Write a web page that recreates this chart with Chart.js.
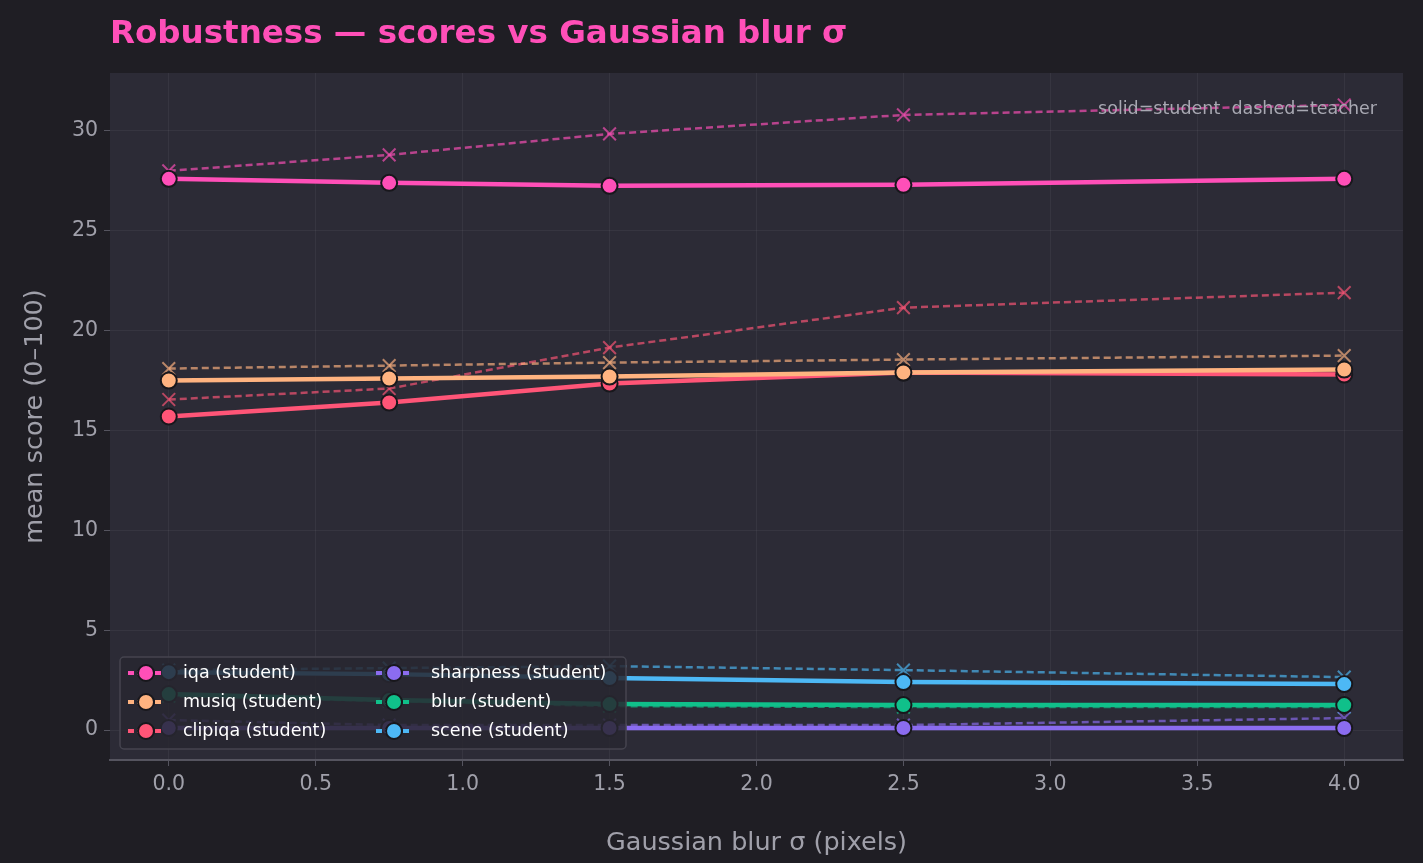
<!DOCTYPE html>
<html><head><meta charset="utf-8">
<script src="https://cdn.jsdelivr.net/npm/chart.js@4/dist/chart.umd.min.js"></script>
<style>html,body{margin:0;padding:0;background:#1f1e24;}#wrap{width:1423px;height:863px;}</style>
</head><body><div id="wrap"><canvas id="c" width="1423" height="863"></canvas></div>
<script>
const sigmas = [0, 0.75, 1.5, 2.5, 4.0];
const metrics = ['iqa','musiq','clipiqa','sharpness','blur','scene'];
const colors = ['#ff4fb8','#ffb380','#ff5577','#8b6cf0','#10c08a','#4db8f5'];
const studentIqa = [27.6, 27.4, 27.25, 27.3, 27.6];
const teacherIqa = [28.0, 28.8, 29.85, 30.8, 31.3];
const studentMusiq = [17.5, 17.6, 17.7, 17.9, 18.05];
const teacherMusiq = [18.1, 18.25, 18.4, 18.55, 18.75];
const studentClipiqa = [15.7, 16.4, 17.35, 17.9, 17.8];
const teacherClipiqa = [16.55, 17.1, 19.15, 21.15, 21.9];
const studentSharpness = [0.1, 0.1, 0.1, 0.1, 0.1];
const teacherSharpness = [0.5, 0.25, 0.25, 0.25, 0.6];
const studentBlur = [1.8, 1.5, 1.3, 1.25, 1.25];
const teacherBlur = [1.7, 1.45, 1.2, 1.15, 1.15];
const studentScene = [2.9, 2.8, 2.6, 2.4, 2.3];
const teacherScene = [3.0, 3.1, 3.2, 3.0, 2.65];
const yTicks = [0,5,10,15,20,25,30];
const xTicks = [0,0.5,1,1.5,2,2.5,3,3.5,4];

const students=[studentIqa,studentMusiq,studentClipiqa,studentSharpness,studentBlur,studentScene];
const teachers=[teacherIqa,teacherMusiq,teacherClipiqa,teacherSharpness,teacherBlur,teacherScene];
const pts = a => a.map((v,i)=>({x:sigmas[i],y:v}));
const datasets=[];
metrics.forEach((m,i)=>{
  datasets.push({label:m+' (teacher)',data:pts(teachers[i]),borderColor:colors[i]+'aa',backgroundColor:colors[i]+'aa',
    borderWidth:2.5,borderDash:[7,4],pointStyle:'crossRot',pointRadius:9,pointBorderWidth:2,pointBorderColor:colors[i]+'aa',tension:0,order:2});
});
metrics.forEach((m,i)=>{
  datasets.push({label:m+' (student)',data:pts(students[i]),borderColor:colors[i],backgroundColor:colors[i],
    borderWidth:4.5,pointStyle:'circle',pointRadius:8,pointBorderWidth:2,pointBorderColor:'#18171c',tension:0,order:1});
});

const deco={id:'deco',
 beforeDraw(ch){const {ctx,chartArea:a}=ch;ctx.save();ctx.fillStyle='#1f1e24';ctx.fillRect(0,0,ch.width,ch.height);
  ctx.fillStyle='#2c2b36';ctx.fillRect(a.left,a.top,a.right-a.left,a.bottom-a.top);ctx.restore();},
 afterDraw(ch){const {ctx,chartArea:a}=ch;ctx.save();
  ctx.fillStyle='#ff4fb8';ctx.font='bold 32.5px "DejaVu Sans"';ctx.textBaseline='middle';ctx.fillText('Robustness — scores vs Gaussian blur σ',110,35);
  ctx.fillStyle='#a8a8b2';ctx.font='17.5px "DejaVu Sans"';ctx.textAlign='right';ctx.fillText('solid=student  dashed=teacher',1377,109);
  ctx.textAlign='left';
  ctx.fillStyle='rgba(40,39,48,0.85)';ctx.strokeStyle='#45444f';ctx.lineWidth=1.5;
  ctx.beginPath();ctx.roundRect(120,657,506,92,4);ctx.fill();ctx.stroke();
  ctx.font='17.5px "DejaVu Sans"';
  [0,1,2,3,4,5].forEach((k,j)=>{const col=j<3?0:1, row=j%3;const x=128+col*248, y=673+row*29;
    ctx.strokeStyle=colors[k];ctx.lineWidth=4;ctx.setLineDash([6,3]);ctx.beginPath();ctx.moveTo(x,y);ctx.lineTo(x+36,y);ctx.stroke();ctx.setLineDash([]);
    ctx.fillStyle=colors[k];ctx.strokeStyle='#18171c';ctx.lineWidth=2;ctx.beginPath();ctx.arc(x+18,y,8,0,Math.PI*2);ctx.fill();ctx.stroke();
    ctx.fillStyle='#ffffff';ctx.fillText(metrics[k]+' (student)',x+55,y);});
  ctx.restore();}
};

new Chart(document.getElementById('c'),{type:'line',data:{datasets},
 options:{responsive:false,animation:false,devicePixelRatio:1,
  layout:{padding:{top:73,right:20,left:0,bottom:0}},
  plugins:{legend:{display:false},tooltip:{enabled:false}},
  scales:{
   x:{type:'linear',min:-0.2,max:4.2,afterBuildTicks(s){s.ticks=xTicks.map(v=>({value:v}));},
     afterFit(s){s.height=103;},
     grid:{color:'rgba(255,255,255,0.05)',drawTicks:true,tickLength:6,tickColor:'#55545f'},border:{color:'#55545f',width:2},
     ticks:{color:'#a0a0aa',font:{size:20.5,family:'DejaVu Sans'},padding:6,callback:v=>v.toFixed(1)},
     title:{display:true,text:'Gaussian blur σ (pixels)',color:'#a0a0aa',font:{size:25.5,family:'DejaVu Sans'},padding:{top:4}}},
   y:{type:'linear',min:-1.5,max:32.9,afterBuildTicks(s){s.ticks=yTicks.map(v=>({value:v}));},
     afterFit(s){s.width=110;},
     grid:{color:'rgba(255,255,255,0.05)',tickLength:6,tickColor:'#55545f'},border:{display:false},
     ticks:{color:'#a0a0aa',font:{size:20.5,family:'DejaVu Sans'},padding:6},
     title:{display:true,text:'mean score (0–100)',color:'#a0a0aa',font:{size:25.5,family:'DejaVu Sans'},padding:{top:20,bottom:4}}}
  }},plugins:[deco]});
</script></body></html>
